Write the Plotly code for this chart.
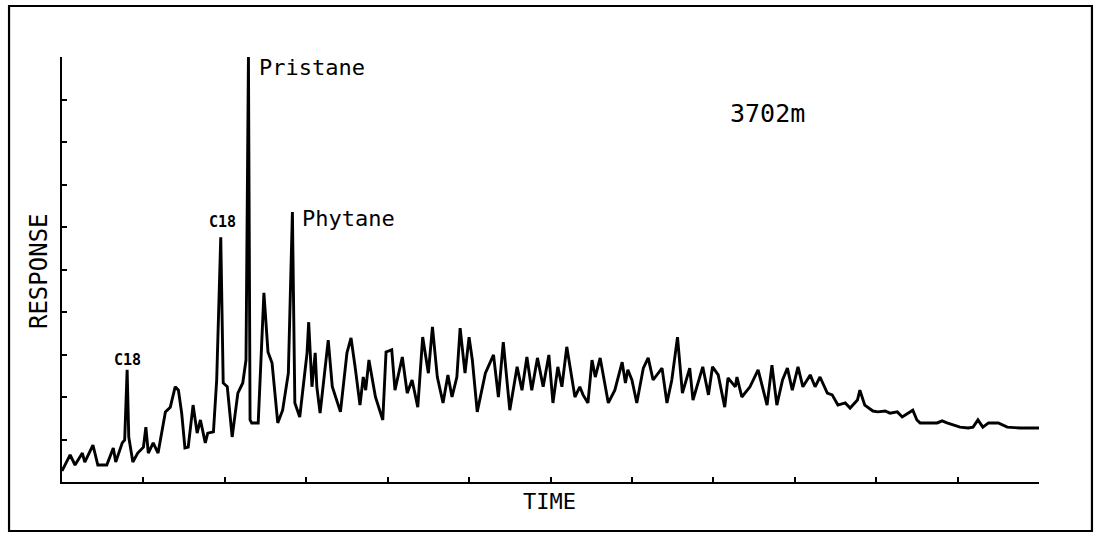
import plotly.graph_objects as go

# Retention time (arbitrary units, 0-120) and detector response (% of full scale)
time = [0, 1.0, 1.6, 2.5, 2.8, 3.8, 4.4, 5.5, 6.3, 6.6, 7.4, 7.7, 8.0, 8.2, 8.7, 9.3, 10.0, 10.3, 10.6, 11.2,
        11.8, 12.7, 13.3, 13.9, 14.3, 14.7, 15.1, 15.5, 16.1, 16.6, 17.0, 17.6, 17.9, 18.6, 19.0, 19.5, 19.8, 20.3, 20.9, 21.6,
        22.2, 22.6, 22.9, 23.1, 23.3, 24.1, 24.8, 25.3, 25.8, 26.5, 27.1, 27.8, 28.3, 28.6, 29.2, 30.1, 30.3, 30.7, 31.1, 31.3,
        31.7, 32.7, 33.2, 34.2, 35.0, 35.5, 36.0, 36.6, 37.0, 37.3, 37.7, 38.5, 39.4, 39.8, 40.5, 40.9, 41.8, 42.4, 43.0, 43.7,
        44.3, 45.0, 45.5, 46.1, 46.8, 47.4, 47.9, 48.5, 48.9, 49.5, 50.0, 50.4, 51.0, 52.0, 53.0, 53.6, 54.2, 55.0, 55.9, 56.5,
        57.1, 57.7, 58.4, 59.1, 59.8, 60.3, 60.9, 61.4, 62.0, 63.0, 63.6, 64.0, 64.6, 65.1, 65.5, 66.1, 67.1, 67.9, 68.8, 69.2,
        69.5, 70.0, 70.6, 71.4, 72.0, 72.6, 73.7, 74.3, 74.9, 75.6, 76.2, 77.1, 77.5, 78.7, 79.4, 79.9, 80.6, 81.4, 81.8, 82.7,
        82.9, 83.5, 84.5, 85.5, 86.6, 87.2, 87.8, 88.5, 89.1, 89.7, 90.4, 91.0, 91.9, 92.5, 93.1, 94.0, 94.6, 95.3, 96.2, 96.8,
        97.7, 98.0, 98.6, 99.6, 100.2, 101.1, 101.7, 102.6, 103.2, 103.9, 104.5, 105.0, 105.4, 106.6, 107.5, 108.1, 108.7, 110.3, 111.3, 111.9,
        112.5, 113.1, 113.8, 115.0, 116.1, 117.7, 120.0]
response = [2.6, 6.4, 4.0, 6.8, 4.7, 8.7, 4.0, 4.0, 8.0, 4.7, 9.2, 9.9, 26.4, 10.6, 4.7, 6.8, 8.2, 12.9, 6.8, 9.2,
            6.8, 16.5, 17.6, 22.4, 21.6, 16.2, 8.0, 8.2, 18.1, 11.5, 14.6, 9.2, 11.5, 11.8, 24.0, 57.6, 23.3, 22.4, 10.6, 20.9,
            23.3, 28.7, 100.0, 14.6, 13.9, 13.9, 44.5, 30.6, 28.0, 13.9, 16.9, 25.6, 63.5, 18.6, 15.3, 30.4, 37.6, 22.4, 30.4, 22.4,
            16.2, 33.4, 22.4, 16.5, 30.4, 33.9, 27.1, 18.1, 24.7, 21.6, 28.7, 20.0, 14.6, 30.6, 31.1, 21.6, 29.4, 20.9, 24.0, 17.6,
            34.1, 25.6, 36.5, 24.7, 18.6, 25.2, 20.0, 24.7, 36.2, 25.6, 34.1, 28.7, 16.5, 25.6, 29.9, 20.0, 32.9, 16.9, 27.1, 21.6,
            29.4, 21.6, 29.2, 22.4, 29.9, 18.6, 27.1, 22.4, 31.8, 20.0, 22.4, 20.5, 18.6, 28.7, 24.7, 29.2, 18.6, 21.6, 28.2, 23.3,
            26.4, 24.0, 18.6, 26.8, 29.2, 24.0, 26.8, 18.6, 24.0, 34.1, 20.9, 26.8, 19.3, 27.1, 20.5, 27.1, 25.2, 17.6, 24.5, 22.4,
            24.7, 20.0, 22.4, 26.4, 18.1, 27.5, 18.1, 24.0, 26.8, 21.6, 27.1, 22.4, 25.2, 22.4, 24.7, 20.9, 20.5, 18.1, 18.6, 17.4,
            19.3, 21.6, 18.1, 16.7, 16.5, 16.7, 16.2, 16.5, 15.3, 16.2, 16.9, 14.6, 13.9, 13.9, 13.9, 14.4, 13.9, 12.9, 12.7, 12.9,
            14.6, 12.9, 13.9, 13.9, 12.9, 12.7, 12.7]

# Peak labels
label_text = ["C18", "C18", "Pristane", "Phytane"]
label_time = [8.1, 19.66, 24.0, 29.2]
label_resp = [28.7, 61.2, 97.6, 62.1]
label_anchor = ["center", "center", "left", "left"]
label_bold = [True, True, False, False]

sample_label = "3702m"
x_title = "TIME"
y_title = "RESPONSE"

FONT = "DejaVu Sans Mono"

fig = go.Figure()
fig.add_trace(go.Scatter(x=time, y=response, mode="lines",
                         line=dict(color="black", width=2.9), hoverinfo="skip",
                         showlegend=False))

annotations = []
for t, x, y, a, b in zip(label_text, label_time, label_resp, label_anchor, label_bold):
    annotations.append(dict(x=x, y=y, xref="x", yref="y", text=f"<b>{t}</b>" if b else t,
                            showarrow=False, xanchor=a, yanchor="middle",
                            font=dict(family=FONT, size=15 if b else 22, color="black")))
annotations.append(dict(x=86.6, y=86.8, xref="x", yref="y", text=sample_label, showarrow=False,
                        xanchor="center", yanchor="middle",
                        font=dict(family=FONT, size=25, color="black")))
annotations.append(dict(x=0.4985, y=-0.047, xref="paper", yref="paper", text=x_title, showarrow=False,
                        xanchor="center", yanchor="middle",
                        font=dict(family=FONT, size=22, color="black")))
annotations.append(dict(x=-0.0235, y=0.4965, xref="paper", yref="paper", text=y_title, showarrow=False,
                        xanchor="center", yanchor="middle", textangle=-90,
                        font=dict(family=FONT, size=24, color="black")))

fig.update_layout(
    width=1098, height=533,
    margin=dict(l=62, r=59, t=57, b=51),
    paper_bgcolor="white", plot_bgcolor="white",
    annotations=annotations,
    shapes=[dict(type="rect", xref="paper", yref="paper", x0=-0.0542, x1=1.0542, y0=-0.1153, y1=1.12,
                 line=dict(color="black", width=2.2), fillcolor="rgba(0,0,0,0)", layer="below")],
    xaxis=dict(range=[0, 120], tick0=0, dtick=10, showticklabels=False, ticks="inside", ticklen=5,
               tickwidth=2, tickcolor="black", showline=True, linecolor="black", linewidth=2,
               showgrid=False, zeroline=False, fixedrange=True),
    yaxis=dict(range=[0, 100], tick0=0, dtick=10, showticklabels=False, ticks="inside", ticklen=5,
               tickwidth=2, tickcolor="black", showline=True, linecolor="black", linewidth=2,
               showgrid=False, zeroline=False, fixedrange=True),
)

fig.write_html("out.html", config={"displayModeBar": False},
               post_script="document.body.style.margin='0';document.body.style.overflow='hidden';")
